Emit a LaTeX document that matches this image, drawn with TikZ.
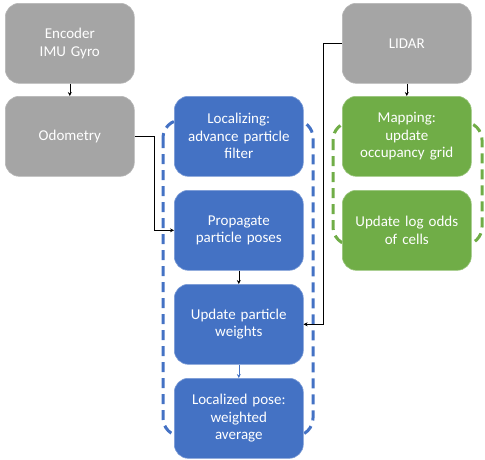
\documentclass[tikz,border=0pt]{standalone}
\usepackage{fontspec}
\setmainfont{Carlito}
\usetikzlibrary{arrows.meta}
\definecolor{gbox}{HTML}{A5A5A5}
\definecolor{bbox}{HTML}{4472C4}
\definecolor{grbox}{HTML}{70AD47}
\tikzset{
  card/.style={rounded corners=14pt, minimum width=129pt, minimum height=80pt, text width=124pt, align=center, text=white, font=\fontsize{15}{17.5}\selectfont, inner sep=0pt, anchor=north west},
  graycard/.style={card, fill=gbox, draw=gbox!80!white, line width=0.6pt},
  bluecard/.style={card, fill=bbox, draw=bbox!70!white, line width=0.6pt},
  greencard/.style={card, fill=grbox, draw=grbox!70!white, line width=0.6pt},
  conn/.style={draw=black, line width=0.6pt, -{Stealth[length=4pt,width=4pt]}},
  groupline/.style={line width=3pt, dash pattern=on 10pt off 6pt, rounded corners=18pt},
}
\begin{document}
\begin{tikzpicture}[x=1pt,y=-1pt]
\useasboundingbox (0,0) rectangle (485,459);
% groups
\draw[groupline, draw=bbox] (163,120) rectangle (313,436);
\draw[groupline, draw=grbox] (333,122) rectangle (482,245);
% nodes
\node[graycard] (enc) at (5,3) {Encoder\\IMU Gyro};
\node[graycard] (odo) at (5,96) {Odometry};
\node[graycard] (lidar) at (342,3) {LIDAR};
\node[bluecard] (loc) at (174,96) {Localizing:\\advance particle\\filter};
\node[bluecard] (prop) at (174,190) {Propagate\\particle poses};
\node[bluecard] (upd) at (174,284) {Update particle\\weights};
\node[bluecard] (pose) at (174,378) {Localized pose:\\weighted\\average};
\node[greencard] (map) at (342,96) {Mapping:\\update\\occupancy grid};
\node[greencard] (logodds) at (342,190) {Update log odds\\of cells};
% connectors
\coordinate (o1) at (154,0);
\coordinate (l1) at (323,0);
\draw[conn] (enc) -- (odo);
\draw[conn] (lidar) -- (map);
\draw[conn] (odo.east) -| (o1 |- odo.east) |- (prop.west);
\draw[conn] (lidar.west) -| (l1 |- lidar.west) |- (upd.east);
\draw[conn] (prop) -- (upd);
\draw[line width=0.6pt, draw=bbox, -{Stealth[length=4pt,width=4pt]}] (upd) -- (pose);
\end{tikzpicture}
\end{document}
